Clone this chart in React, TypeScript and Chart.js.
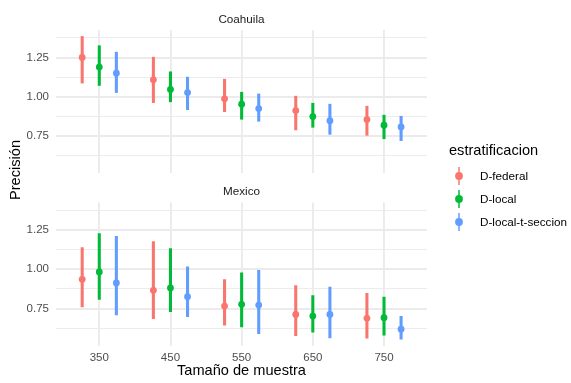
import React, { useEffect, useRef } from 'react';
import { Chart, registerables } from 'chart.js';

Chart.register(...registerables);

const FONT = "'Liberation Sans', Arial, Helvetica, sans-serif";
Chart.defaults.font.family = FONT;

// ---------- data ----------
const SIZES = [350, 450, 550, 650, 750];
const X_TICKS = [350, 450, 550, 650, 750];
const SERIES = ['D-federal', 'D-local', 'D-local-t-seccion'];
const FACETS = ['Coahuila', 'Mexico'];
const Y_TICKS = [0.625, 0.75, 0.875, 1.0, 1.125, 1.25, 1.375];
const Y_MAJOR = [0.75, 1.0, 1.25];
const X_TITLE = 'Tamaño de muestra';
const Y_TITLE = 'Precisión';
const LEGEND_TITLE = 'estratificacion';

// Coahuila
const COAH_FED_EST = [1.25, 1.108, 0.987, 0.912, 0.855];
const COAH_FED_LO = [1.087, 0.963, 0.905, 0.789, 0.755];
const COAH_FED_HI = [1.384, 1.252, 1.112, 1.004, 0.94];
const COAH_LOC_EST = [1.189, 1.047, 0.953, 0.874, 0.819];
const COAH_LOC_LO = [1.072, 0.968, 0.857, 0.806, 0.733];
const COAH_LOC_HI = [1.325, 1.159, 1.029, 0.959, 0.883];
const COAH_SEC_EST = [1.15, 1.027, 0.925, 0.848, 0.808];
const COAH_SEC_LO = [1.027, 0.918, 0.844, 0.761, 0.721];
const COAH_SEC_HI = [1.284, 1.125, 1.018, 0.953, 0.876];

// Mexico
const MEX_FED_EST = [0.936, 0.866, 0.766, 0.713, 0.688];
const MEX_FED_LO = [0.76, 0.686, 0.645, 0.577, 0.562];
const MEX_FED_HI = [1.138, 1.177, 0.934, 0.896, 0.847];
const MEX_LOC_EST = [0.983, 0.881, 0.777, 0.702, 0.692];
const MEX_LOC_LO = [0.809, 0.73, 0.634, 0.6, 0.581];
const MEX_LOC_HI = [1.228, 1.132, 0.977, 0.832, 0.823];
const MEX_SEC_EST = [0.913, 0.826, 0.772, 0.713, 0.619];
const MEX_SEC_LO = [0.709, 0.698, 0.59, 0.564, 0.556];
const MEX_SEC_HI = [1.21, 1.015, 0.994, 0.887, 0.7];

// ---------- style / layout ----------
const COLORS = ['#F8766D', '#00BA38', '#619CFF'];
const DODGE = [-24, 0, 24];
const X_MIN = 289.2;
const X_MAX = 810.4;
const Y_MIN = 0.515;
const Y_MAX = 1.425;
const GRID = '#EBEBEB';
const W = 571;
const H = 383;

const FACET_DATA = [
  {
    est: [COAH_FED_EST, COAH_LOC_EST, COAH_SEC_EST],
    lo: [COAH_FED_LO, COAH_LOC_LO, COAH_SEC_LO],
    hi: [COAH_FED_HI, COAH_LOC_HI, COAH_SEC_HI],
  },
  {
    est: [MEX_FED_EST, MEX_LOC_EST, MEX_SEC_EST],
    lo: [MEX_FED_LO, MEX_LOC_LO, MEX_SEC_LO],
    hi: [MEX_FED_HI, MEX_LOC_HI, MEX_SEC_HI],
  },
];

const isMajor = (v: number) => Y_MAJOR.some((m) => Math.abs(m - v) < 1e-6);

function makeConfig(facet: number, bottom: boolean): any {
  const fd = FACET_DATA[facet];
  const datasets: any[] = [];
  SERIES.forEach((name, s) => {
    datasets.push({
      type: 'bar',
      label: name + ' range',
      data: SIZES.map((n, i) => ({ x: n + DODGE[s], y: [fd.lo[s][i], fd.hi[s][i]] })),
      backgroundColor: COLORS[s],
      borderWidth: 0,
      barThickness: 2.4,
      grouped: false,
      order: 2,
      xAxisID: 'x',
      yAxisID: 'y',
    });
    datasets.push({
      type: 'scatter',
      label: name,
      data: SIZES.map((n, i) => ({ x: n + DODGE[s], y: fd.est[s][i] })),
      backgroundColor: COLORS[s],
      borderWidth: 0,
      pointRadius: 3.4,
      order: 1,
      xAxisID: 'x',
      yAxisID: 'y',
    });
  });

  const scales: any = {
    x: {
      type: 'linear',
      position: bottom ? 'bottom' : 'top',
      min: X_MIN,
      max: X_MAX,
      offset: false,
      afterBuildTicks: (a: any) => {
        a.ticks = X_TICKS.map((v) => ({ value: v }));
      },
      grid: { color: GRID, lineWidth: 1.9, drawTicks: false, offset: false },
      border: { display: false },
      ticks: {
        display: bottom,
        padding: 5,
        autoSkip: false,
        maxRotation: 0,
        color: '#4D4D4D',
        font: { size: 11.5, family: FONT },
        callback: (v: any) => String(v),
      },
      title: bottom
        ? {
            display: true,
            text: X_TITLE,
            color: '#000000',
            font: { size: 14.6, family: FONT },
            padding: { top: 0, bottom: 3 },
          }
        : {
            display: true,
            text: FACETS[facet],
            color: '#1A1A1A',
            font: { size: 11.7, family: FONT },
            padding: { top: 13, bottom: 0 },
          },
      afterFit: (s: any) => {
        s.height = bottom ? 37.5 : 30;
      },
    },
    y: {
      type: 'linear',
      position: 'left',
      min: Y_MIN,
      max: Y_MAX,
      afterBuildTicks: (a: any) => {
        a.ticks = Y_TICKS.map((v) => ({ value: v }));
      },
      grid: {
        color: GRID,
        drawTicks: false,
        lineWidth: (ctx: any) => (ctx.tick && isMajor(ctx.tick.value) ? 1.9 : 0.95),
      },
      border: { display: false },
      ticks: {
        padding: 7,
        autoSkip: false,
        color: '#4D4D4D',
        font: { size: 11.5, family: FONT },
        callback: (v: any) => (isMajor(Number(v)) ? Number(v).toFixed(2) : ''),
      },
      afterFit: (s: any) => {
        s.width = 56;
      },
    },
  };

  if (bottom) {
    scales.xs = {
      type: 'linear',
      position: 'top',
      min: X_MIN,
      max: X_MAX,
      grid: { display: false },
      border: { display: false },
      ticks: { display: false },
      title: {
        display: true,
        text: FACETS[facet],
        color: '#1A1A1A',
        font: { size: 11.7, family: FONT },
        padding: { top: 185.2, bottom: 0 },
      },
      afterFit: (s: any) => {
        s.height = 202.5;
      },
    };
  }

  return {
    type: 'scatter',
    data: { datasets },
    options: {
      animation: false,
      responsive: false,
      maintainAspectRatio: false,
      devicePixelRatio: 1,
      events: [],
      layout: {
        padding: bottom
          ? { left: 0, right: 144, top: 0, bottom: 0 }
          : { left: 0, right: 144, top: 0, bottom: 210 },
      },
      plugins: {
        legend: { display: false },
        tooltip: { enabled: false },
        title: { display: false },
      },
      scales,
    },
  };
}

function Panel({ facet, bottom }: { facet: number; bottom: boolean }) {
  const ref = useRef<HTMLCanvasElement | null>(null);
  useEffect(() => {
    if (!ref.current) return;
    const chart = new Chart(ref.current, makeConfig(facet, bottom));
    return () => chart.destroy();
  }, [facet, bottom]);
  return (
    <canvas
      ref={ref}
      width={W}
      height={H}
      style={{ position: 'absolute', left: 0, top: 0, width: W, height: H }}
    />
  );
}

const LEGEND_BASELINES = [179.8, 202.8, 225.8];

export default function App() {
  return (
    <div
      style={{
        position: 'absolute',
        left: 0,
        top: 0,
        width: W,
        height: H,
        background: '#FFFFFF',
        overflow: 'hidden',
        fontFamily: FONT,
      }}
    >
      <Panel facet={0} bottom={false} />
      <Panel facet={1} bottom={true} />
      <div
        style={{
          position: 'absolute',
          left: 14.5 - 100,
          top: 170 - 9,
          width: 200,
          height: 18,
          lineHeight: '18px',
          fontSize: 14.6,
          textAlign: 'center',
          color: '#000000',
          transform: 'rotate(-90deg)',
          whiteSpace: 'nowrap',
        }}
      >
        {Y_TITLE}
      </div>
      <div
        style={{
          position: 'absolute',
          left: 449,
          top: 155 - 0.8465 * 14.6,
          fontSize: 14.6,
          lineHeight: '14.6px',
          color: '#000000',
          whiteSpace: 'nowrap',
        }}
      >
        {LEGEND_TITLE}
      </div>
      {SERIES.map((name, s) => {
        const base = LEGEND_BASELINES[s];
        const cy = base - 4.2;
        return (
          <React.Fragment key={name}>
            <svg
              width={20}
              height={24}
              style={{ position: 'absolute', left: 449, top: cy - 12 }}
            >
              <line x1={10} y1={3} x2={10} y2={21} stroke={COLORS[s]} strokeOpacity={0.75} strokeWidth={2} />
              <circle cx={10} cy={12} r={3.9} fill={COLORS[s]} />
            </svg>
            <div
              style={{
                position: 'absolute',
                left: 480,
                top: base - 0.8465 * 11.7,
                fontSize: 11.7,
                lineHeight: '11.7px',
                color: '#000000',
                whiteSpace: 'nowrap',
              }}
            >
              {name}
            </div>
          </React.Fragment>
        );
      })}
    </div>
  );
}
